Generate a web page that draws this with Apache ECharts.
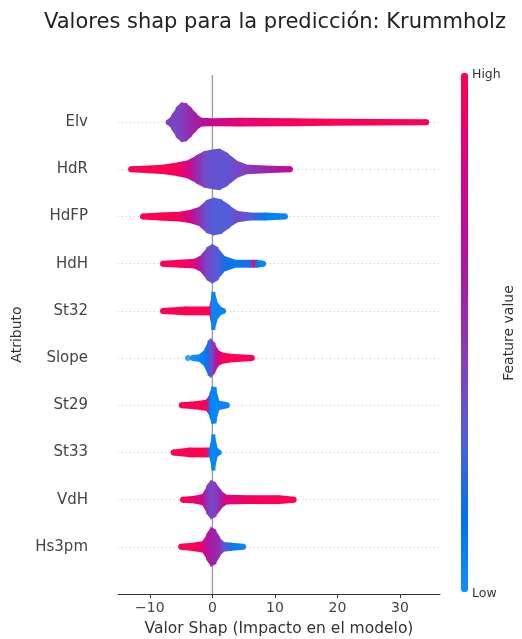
<!DOCTYPE html>
<html>
<head>
<meta charset="utf-8">
<script src="https://cdn.jsdelivr.net/npm/echarts@6/dist/echarts.min.js"></script>
<style>
  html, body { margin: 0; padding: 0; background: #fff; }
  #chart { width: 522px; height: 639px; }
</style>
</head>
<body>
<div id="chart"></div>
<script>
// atributos, de arriba hacia abajo
const features = ['Elv', 'HdR', 'HdFP', 'HdH', 'St32', 'Slope', 'St29', 'St33', 'VdH', 'Hs3pm'];

// perfil de cada fila: [valor shap, semi-ancho (en filas), valor del atributo 0..1]
const elv = [[-7.0, 0, .45], [-6.5, .085, .45], [-5.8, .25, .4], [-5.0, .36, .45], [-4.1, .34, .5],
  [-3.3, .23, .55], [-2.5, .11, .6], [-1.8, .03, .65], [0, .02, .75], [4.4, .03, .88],
  [12.4, .02, .97], [18.8, .01, 1], [34.2, 0, 1]];
const hdr = [[-13.0, 0, 1], [-10.0, .02, 1], [-7.6, .04, 1], [-5.5, .085, .95], [-3.9, .13, .8],
  [-2.6, .23, .55], [-1.4, .32, .4], [0, .36, .35], [1.2, .38, .35], [2.5, .28, .35],
  [3.8, .13, .4], [5.4, .04, .45], [8.4, .02, .55], [12.4, 0, .7]];
const hdfp = [[-11.1, 0, 1], [-8.4, .02, 1], [-5.2, .04, .95], [-3.3, .085, .75], [-2.0, .15, .5],
  [-1.0, .28, .35], [0.2, .34, .3], [1.5, .3, .3], [2.8, .17, .3], [3.9, .06, .4],
  [6.0, .02, .3], [8.4, .02, .1], [11.6, 0, .05]];
const hdh = [[-7.9, 0, 1], [-5.2, .02, 1], [-2.8, .04, .85], [-1.7, .13, .55], [-0.9, .28, .4],
  [0, .36, .35], [0.9, .28, .3], [1.8, .11, .2], [3.6, .02, .1], [6.0, .02, .2],
  [6.6, .02, .9], [7.1, .02, .1], [8.1, 0, .05]];
const st32 = [[-7.9, 0, 1], [-4.4, .03, 1], [-0.7, .03, 1], [-0.4, .03, .9], [-0.1, .34, .05],
  [0.4, .34, .05], [0.7, .15, .05], [1.2, .04, .05], [1.7, 0, .05]];
const slope = [[-3.1, 0, 0], [-2.0, .02, .05], [-1.2, .13, .1], [-0.7, .3, .2], [-0.25, .36, .35],
  [0.4, .25, .55], [0.9, .11, .8], [1.5, .06, .95], [2.8, .03, 1], [6.3, 0, 1]];
const st29 = [[-4.9, 0, 1], [-2.8, .02, 1], [-1.7, .04, 1], [-0.9, .06, .95], [-0.4, .19, .1],
  [-0.1, .34, .05], [0.6, .32, .05], [1.0, .04, .05], [2.3, 0, .05]];
const st33 = [[-6.2, 0, 1], [-3.6, .04, 1], [-0.9, .04, 1], [-0.4, .04, .1], [-0.1, .32, .05],
  [0.4, .32, .05], [0.7, .06, .05], [1.0, 0, .05]];
const vdh = [[-4.7, 0, 1], [-2.8, .02, .9], [-1.5, .06, .75], [-0.9, .23, .5], [-0.25, .36, .4],
  [0.55, .3, .45], [1.4, .13, .6], [2.2, .04, .85], [6.0, .03, .95], [10.8, .03, 1], [13.0, 0, 1]];
const hs3pm = [[-5.0, 0, 1], [-2.8, .03, 1], [-1.5, .06, .85], [-0.9, .21, .7], [-0.25, .36, .6],
  [0.55, .3, .55], [1.2, .13, .5], [1.8, .04, .35], [3.1, .02, .1], [4.9, 0, .05]];
const profiles = [elv, hdr, hdfp, hdh, st32, slope, st29, st33, vdh, hs3pm];

// puntos sueltos: [valor shap, atributo, valor del atributo]
const outliers = [[-3.9, 'Slope', 0.02]];

const xTicks = [-10, 0, 10, 20, 30];
const palette = ['#0d8ffd', '#0072ea', '#4d60dc', '#7f42c2', '#a020a8', '#bf0b98', '#e0047a', '#ff0052'];

const DOT_R = 3;

function hexRgb(h) {
  return [parseInt(h.substr(1, 2), 16), parseInt(h.substr(3, 2), 16), parseInt(h.substr(5, 2), 16)];
}
function colorAt(t) {
  t = Math.max(0, Math.min(1, t));
  const s = t * (palette.length - 1);
  const i = Math.min(Math.floor(s), palette.length - 2);
  const f = s - i;
  const a = hexRgb(palette[i]), b = hexRgb(palette[i + 1]);
  const c = a.map((v, k) => Math.round(v + (b[k] - v) * f));
  return 'rgb(' + c.join(',') + ')';
}

const rowOf = name => features.length - 1 - features.indexOf(name);

// tramos entre estaciones consecutivas
const segs = [];
profiles.forEach((p, k) => {
  const row = features.length - 1 - k;
  for (let i = 0; i < p.length - 1; i++) {
    segs.push([p[i][0], p[i + 1][0], row, p[i][1], p[i + 1][1], p[i][2], p[i + 1][2],
      i === 0 ? 1 : 0, i === p.length - 2 ? 1 : 0]);
  }
});

function renderSeg(params, api) {
  const x0 = api.value(0), x1 = api.value(1), row = api.value(2);
  const h0 = api.value(3), h1 = api.value(4);
  const c0 = colorAt(api.value(5)), c1 = colorAt(api.value(6));
  const a = api.coord([x0, row + h0]), b = api.coord([x1, row + h1]);
  const c = api.coord([x1, row - h1]), d = api.coord([x0, row - h0]);
  const r = DOT_R;
  const children = [{
    type: 'polygon',
    shape: { points: [[a[0] - 0.5, a[1] - r], [b[0] + 0.5, b[1] - r], [c[0] + 0.5, c[1] + r], [d[0] - 0.5, d[1] + r]] },
    style: {
      fill: { type: 'linear', x: 0, y: 0, x2: 1, y2: 0, colorStops: [{ offset: 0, color: c0 }, { offset: 1, color: c1 }] }
    }
  }];
  if (api.value(7)) {
    children.push({ type: 'circle', shape: { cx: a[0], cy: (a[1] + d[1]) / 2, r: r + (d[1] - a[1]) / 2 }, style: { fill: c0 } });
  }
  if (api.value(8)) {
    children.push({ type: 'circle', shape: { cx: b[0], cy: (b[1] + c[1]) / 2, r: r + (c[1] - b[1]) / 2 }, style: { fill: c1 } });
  }
  return { type: 'group', children: children };
}

const gridColors = ['rgba(0,0,0,0)'];
for (let i = 0; i < features.length; i++) gridColors.push('#cccccc');
gridColors.push('rgba(0,0,0,0)');

const chart = echarts.init(document.getElementById('chart'));

const option = {
  animation: false,
  backgroundColor: '#fff',
  textStyle: { fontFamily: 'DejaVu Sans' },
  title: {
    text: 'Valores shap para la predicción: Krummholz',
    left: 39, top: 7,
    textStyle: { fontSize: 21, fontWeight: 'normal', color: '#222', fontFamily: 'DejaVu Sans' }
  },
  grid: { left: 118, right: 82, top: 75, bottom: 45, outerBoundsMode: 'none' },
  xAxis: {
    type: 'value', min: -15.1, max: 36.4,
    name: 'Valor Shap (Impacto en el modelo)',
    nameLocation: 'middle', nameGap: 27,
    nameTextStyle: { fontSize: 15.5, color: '#333' },
    axisLine: { onZero: false, lineStyle: { color: '#333', width: 1 } },
    axisTick: { show: true, length: 4, customValues: xTicks, lineStyle: { color: '#333' } },
    axisLabel: {
      customValues: xTicks, fontSize: 14, color: '#444', margin: 7,
      formatter: v => v < 0 ? '\u2212' + Math.abs(v) : String(v)
    },
    splitLine: { show: false }
  },
  yAxis: {
    type: 'value', min: -1, max: features.length, interval: 1,
    name: 'Atributo', nameLocation: 'middle', nameGap: 87, nameRotate: 90,
    nameTextStyle: { fontSize: 14, color: '#333' },
    axisLine: { show: false },
    axisTick: { show: false },
    axisLabel: {
      fontSize: 15, color: '#444', margin: 30,
      formatter: v => (v >= 0 && v < features.length) ? features[features.length - 1 - v] : ''
    },
    splitLine: { show: true, lineStyle: { color: gridColors, type: [1, 3], width: 1 } }
  },
  visualMap: {
    type: 'continuous', min: 0, max: 1, dimension: 2, seriesIndex: 2,
    left: 461, top: 73, itemWidth: 7, itemHeight: 519, padding: 0,
    calculable: false, hoverLink: false, text: null, showLabel: false,
    inRange: { color: palette }
  },
  graphic: [
    { type: 'text', left: 472, top: 68, style: { text: 'High', fontSize: 12.5, fill: '#333', fontFamily: 'DejaVu Sans' } },
    { type: 'text', left: 472, top: 587, style: { text: 'Low', fontSize: 12.5, fill: '#333', fontFamily: 'DejaVu Sans' } },
    { type: 'text', x: 509, y: 333, rotation: Math.PI / 2,
      style: { text: 'Feature value', fontSize: 14, fill: '#333', fontFamily: 'DejaVu Sans', align: 'center', verticalAlign: 'middle' } }
  ],
  series: [
    {
      type: 'line', z: 1, silent: true, symbol: 'none',
      data: [[0, -1], [0, features.length]],
      lineStyle: { color: '#999', width: 1.3 }
    },
    {
      type: 'custom', z: 3, silent: true,
      renderItem: renderSeg,
      encode: { x: [0, 1], y: 2 },
      data: segs
    },
    {
      type: 'scatter', z: 3, silent: true, symbolSize: 6,
      data: outliers.map(o => [o[0], rowOf(o[1]), o[2]])
    }
  ]
};

chart.setOption(option);
</script>
</body>
</html>
